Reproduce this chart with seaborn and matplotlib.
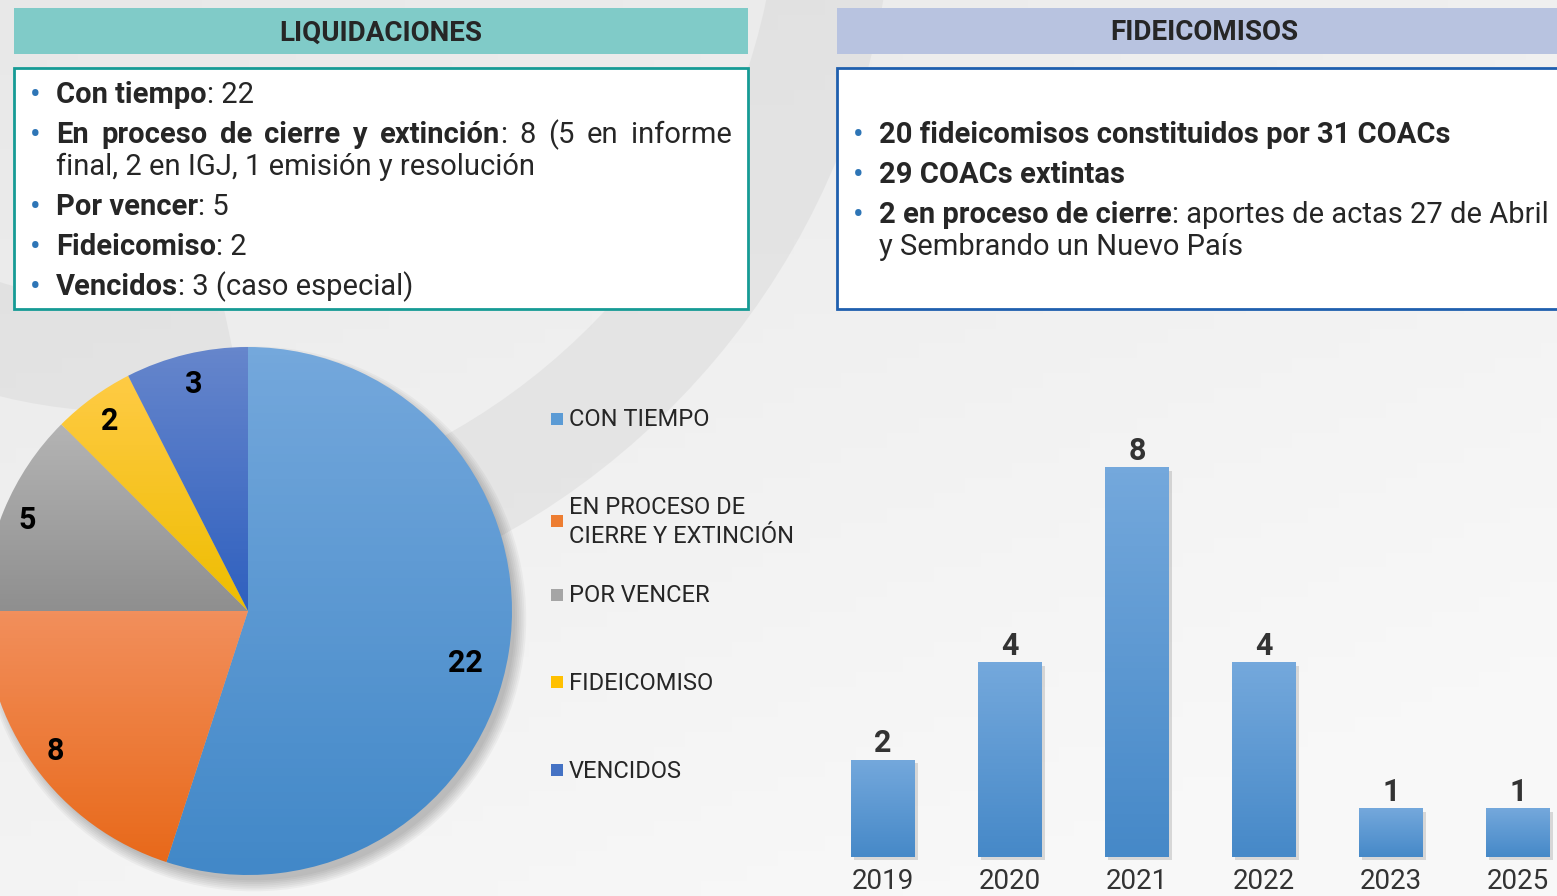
import numpy as np
import matplotlib
matplotlib.use("Agg")
import matplotlib.pyplot as plt
import matplotlib.patches as mpatches
from matplotlib.colors import to_rgb
import seaborn as sns

# --- data ---
pie_labels = ["CON TIEMPO", "EN PROCESO DE\nCIERRE Y EXTINCIÓN", "POR VENCER",
              "FIDEICOMISO", "VENCIDOS"]
pie_values = [22, 8, 5, 2, 3]
years = ["2019", "2020", "2021", "2022", "2023", "2025"]
fideicomisos = [2, 4, 8, 4, 1, 1]

left_lines = [
    [("Con tiempo", True), (": 22", False)],
    None,  # justified line, drawn separately
    [("final, 2 en IGJ, 1 emisión y resolución", False)],
    [("Por vencer", True), (": 5", False)],
    [("Fideicomiso", True), (": 2", False)],
    [("Vencidos", True), (": 3 (caso especial)", False)],
]
justified_words = [[("En", True)], [("proceso", True)], [("de", True)], [("cierre", True)],
                   [("y", True)], [("extinción", True), (":", False)], [("8", False)],
                   [("(5", False)], [("en", False)], [("informe", False)]]
right_lines = [
    [("20 fideicomisos constituidos por 31 COACs", True)],
    [("29 COACs extintas", True)],
    [("2 en proceso de cierre", True), (": aportes de actas 27 de Abril", False)],
    [("y Sembrando un Nuevo País", False)],
]

# --- style ---
office = ["#5b9bd5", "#ed7d31", "#a5a5a5", "#ffc000", "#4472c4"]
grad_top = ["#74a8dc", "#f28f5c", "#b4b4b4", "#ffcb45", "#6686cc"]
grad_bot = ["#4288c8", "#e8691a", "#8f8f8f", "#eebd00", "#2f60bf"]
TXT = "#262626"
BULLET = "#2e75b6"

sns.set_theme(style="white")
plt.rcParams['font.family'] = ['Roboto', 'DejaVu Sans']

W, H = 1557, 896
fig = plt.figure(figsize=(W / 100, H / 100), dpi=100)
renderer = fig.canvas.get_renderer()


def vgrad(top, bot, n=64):
    a, b = np.array(to_rgb(top)), np.array(to_rgb(bot))
    t = np.linspace(0, 1, n)[:, None]
    return (a * (1 - t) + b * t)[:, None, :]


# background, drawn in pixel coordinates
bg = fig.add_axes([0, 0, 1, 1])
bg.set_xlim(0, W)
bg.set_ylim(H, 0)
bg.axis('off')
yy, xx = np.mgrid[0:1:60j, 0:1:100j]
shade = 0.91 + 0.065 * np.clip(0.7 * yy + 0.45 * xx, 0, 1)
bg.imshow(np.dstack([shade] * 3), extent=(0, W, H, 0), aspect='auto', zorder=0)
# soft swooshes behind the slide content
bg.add_patch(mpatches.Wedge((130, -133), 765, 8, 72, width=115,
                            fc="#d4d4d4", ec='none', alpha=0.4, zorder=0.5))
bg.add_patch(mpatches.Wedge((130, -133), 545, 78, 112, width=110,
                            fc="#d4d4d4", ec='none', alpha=0.4, zorder=0.5))

# header bars
bg.add_patch(mpatches.Rectangle((14, 8), 734, 46, fc="#80cbc8", ec='none', zorder=1))
bg.add_patch(mpatches.Rectangle((837, 8), 730, 46, fc="#b8c3e0", ec='none', zorder=1))
bg.text(381, 33, "LIQUIDACIONES", ha='center', va='center', fontsize=20,
        fontweight='bold', color=TXT, zorder=2)
bg.text(1204, 33, "FIDEICOMISOS", ha='center', va='center', fontsize=20,
        fontweight='bold', color=TXT, zorder=2)

# text boxes
bg.add_patch(mpatches.Rectangle((14, 68), 734, 241, fc="white", ec="#169b95", lw=2, zorder=1))
bg.add_patch(mpatches.Rectangle((837, 68), 730, 241, fc="white", ec="#1f5fae", lw=2, zorder=1))

FS = 21


def runs(x, y, parts, size=FS):
    for txt, bold in parts:
        t = bg.text(x, y, txt, fontsize=size, fontweight='bold' if bold else 'normal',
                    color=TXT, va='baseline', ha='left', zorder=3)
        x += t.get_window_extent(renderer).width
    return x


def bullet(x, y):
    bg.text(x, y, "•", fontsize=23, color=BULLET, ha='center', va='center', zorder=3)


def justify(x0, x1, y, words, size=FS):
    items = []
    for w in words:
        ts = [bg.text(0, y, s, fontsize=size, fontweight='bold' if b else 'normal',
                      color=TXT, va='baseline', ha='left', zorder=3) for s, b in w]
        items.append((ts, [t.get_window_extent(renderer).width for t in ts]))
    total = sum(sum(ws) for _, ws in items)
    gap = (x1 - x0 - total) / (len(items) - 1)
    x = x0
    for ts, ws in items:
        for t, wd in zip(ts, ws):
            t.set_x(x)
            x += wd
        x += gap


left_base = [103, 143, 175, 215, 255, 295]
for i, parts in enumerate(left_lines):
    if i != 2:
        bullet(35, left_base[i] - 8)
    if parts is None:
        justify(56, 732, left_base[i], justified_words)
    else:
        runs(56, left_base[i], parts)

right_base = [143, 183, 223, 255]
for i, parts in enumerate(right_lines):
    if i < 3:
        bullet(858, right_base[i] - 8)
    runs(879, right_base[i], parts)

# legend of the pie
legend_y = [419, 521, 595, 682, 770]
for lab, col, y in zip(pie_labels, office, legend_y):
    bg.add_patch(mpatches.Rectangle((551, y - 6), 12, 12, fc=col, ec='none', zorder=2))
    bg.text(569, y + 1, lab, fontsize=17, color=TXT, va='center', ha='left',
            linespacing=1.38, zorder=3)

# --- pie chart ---
R, L = 264, 1.12
cx, cy = 248, 611
pax = fig.add_axes([(cx - R * L) / W, (H - cy - R * L) / H, 2 * R * L / W, 2 * R * L / H])
pax.set_facecolor('none')
for k in range(7):
    pax.add_patch(mpatches.Circle((0.022, -0.03), 0.99 + 0.007 * k, fc='black',
                                  ec='none', alpha=0.035, zorder=-1))
total = sum(pie_values)
wedges, _, autos = pax.pie(
    pie_values, colors=office, startangle=90, counterclock=False,
    autopct=lambda p: f"{p * total / 100:.0f}", pctdistance=0.87,
    wedgeprops=dict(linewidth=0),
    textprops=dict(fontsize=22, fontweight='bold', color='black'))
for w, top, bot in zip(wedges, grad_top, grad_bot):
    ext = w.get_path().get_extents()
    im = pax.imshow(vgrad(top, bot), extent=(ext.x0, ext.x1, ext.y0, ext.y1),
                    aspect='auto', zorder=0.5)
    im.set_clip_path(w)
    w.set_facecolor('none')
# label placement inside the slices ("best fit" look)
label_dist = [0.845, 0.90, 0.905, 0.89, 0.885]
label_turn = [-4.5, 0, 0, 0, 0]
for w, t, d, off in zip(wedges, autos, label_dist, label_turn):
    ang = np.deg2rad((w.theta1 + w.theta2) / 2 + off)
    t.set_position((d * np.cos(ang), d * np.sin(ang)))
    t.set_zorder(5)
pax.set_xlim(-L, L)
pax.set_ylim(-L, L)
pax.set_aspect('equal')
pax.axis('off')

# --- bar chart ---
unit, pitch, base_y, first_x = 48.7, 127, 857, 883
bax = fig.add_axes([(first_x - pitch / 2) / W, (H - base_y) / H, 6 * pitch / W, 9 * unit / H])
bax.set_facecolor('none')
sns.barplot(x=years, y=fideicomisos, ax=bax, color=office[0], width=64 / 127,
            saturation=1, linewidth=0)
for p in list(bax.patches):
    x, w, h = p.get_x(), p.get_width(), p.get_height()
    bax.add_patch(mpatches.Rectangle((x + 0.025, -0.07), w, h, fc='black', ec='none',
                                     alpha=0.13, zorder=0.3, clip_on=False))
    im = bax.imshow(vgrad("#74a8dc", "#4689c8"), extent=(x, x + w, 0, h),
                    aspect='auto', zorder=0.8)
    im.set_clip_path(p)
    p.set_facecolor('none')
bax.bar_label(bax.containers[0], fmt='%d', padding=1, fontsize=22,
              fontweight='bold', color='#333333')
bax.set_xlim(-0.5, 5.5)
bax.set_ylim(0, 9)
bax.set_yticks([])
bax.set_xlabel('')
bax.set_ylabel('')
bax.tick_params(axis='x', length=0, pad=8, labelsize=20, labelcolor='#333333')
sns.despine(ax=bax, left=True, bottom=True)

fig.savefig("out.png", dpi=100)
